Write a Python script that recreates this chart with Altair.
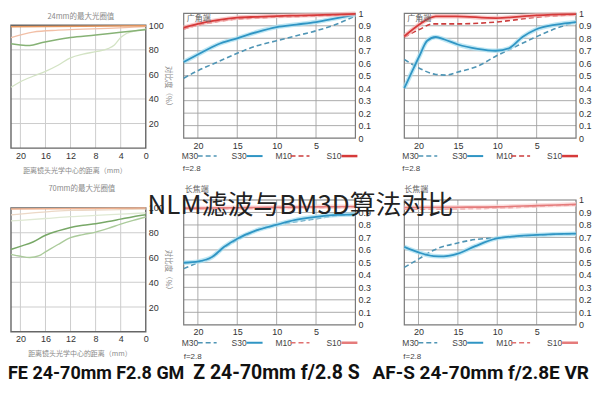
import altair as alt
import pandas as pd

LABEL_FONT = "Liberation Sans"
CJK_FONT = "Noto Sans CJK SC"
BIG_FONT = "Roboto"

# ---------------- axes / grids ----------------
SONY_X_TICKS = [20, 16, 12, 8, 4, 0]
SONY_Y_TICKS = [20, 40, 60, 80, 100]
SONY_X_GRID = [4, 8, 12, 16, 20]
SONY_Y_GRID = [20, 40, 60, 80]

MTF_X_TICKS = [20, 15, 10, 5]
MTF_Y_TICKS = [0, 0.1, 0.2, 0.3, 0.4, 0.5, 0.6, 0.7, 0.8, 0.9, 1]
MTF_X_GRID = [5, 10, 15, 20]
MTF_Y_GRID = [0.1, 0.2, 0.3, 0.4, 0.5, 0.6, 0.7, 0.8, 0.9]

# ---------------- Sony FE 24-70mm F2.8 GM, 24mm (contrast %) ----------------
S24_TOP_X = [21.5, 10, 0]
S24_TOP = [98.8, 99.3, 99.6]
S24_SALMON_X = [21.5, 18, 14, 10, 6, 2, 0]
S24_SALMON = [90, 94.5, 96, 96.8, 97.5, 98.5, 99]
S24_GREEN_X = [21.5, 20, 18.5, 16.5, 14, 12, 8, 4, 0]
S24_GREEN = [85, 84, 83.5, 86, 88.5, 90, 92, 94.3, 96.5]
S24_PALE_X = [21.5, 20, 18, 16, 14, 12, 10, 8, 6, 5, 4, 3, 2, 0]
S24_PALE = [49.5, 54, 58.5, 62.5, 67.5, 73.5, 76.5, 78.5, 81, 84, 90, 93.5, 95, 97]

# ---------------- Sony FE 24-70mm F2.8 GM, 70mm (contrast %) ----------------
S70_TOP_X = [21.5, 10, 0]
S70_TOP = [99.2, 99.6, 100]
S70_PALE1_X = [21.5, 18, 15, 12, 6, 0]
S70_PALE1 = [94.5, 96, 97.3, 98, 98.5, 99]
S70_PALE2_X = [21.5, 16, 12, 8, 4, 0]
S70_PALE2 = [89.5, 91.5, 93, 94, 95, 96]
S70_GREEN_X = [21.5, 20, 18, 16, 14, 12, 10, 8, 6, 4, 2, 0]
S70_GREEN = [66.5, 69, 72.5, 78, 81.5, 84.3, 86, 87.3, 89, 91, 93, 94.5]
S70_LIGHT_X = [21.5, 20, 18.5, 17, 16, 14, 12, 10, 8, 6, 4, 2, 0]
S70_LIGHT = [62.5, 61, 60, 61.5, 64.5, 70.5, 76, 78.5, 80.5, 83.5, 87, 90, 92.7]

# ---------------- Z 24-70mm f/2.8 S, wide ----------------
ZW_X = [21.8, 20, 17.5, 15, 12.5, 10, 7.5, 5, 2.5, 0]
ZW_S10 = [0.885, 0.915, 0.945, 0.965, 0.972, 0.978, 0.982, 0.986, 0.99, 0.996]
ZW_M10 = [0.875, 0.905, 0.935, 0.955, 0.963, 0.97, 0.975, 0.98, 0.987, 0.995]
ZW_S30 = [0.61, 0.67, 0.75, 0.80, 0.85, 0.89, 0.91, 0.93, 0.96, 0.99]
ZW_M30 = [0.48, 0.54, 0.61, 0.68, 0.74, 0.78, 0.82, 0.86, 0.91, 0.98]

# ---------------- AF-S 24-70mm f/2.8E VR, wide ----------------
NW_S10_X = [21.8, 19.9, 18.6, 17.8, 15.3, 10.2, 5.1, 0]
NW_S10 = [0.816, 0.91, 0.962, 0.976, 0.976, 0.962, 0.984, 0.994]
NW_M10_X = [21.8, 19.9, 18.2, 15.3, 10.2, 5.1, 0]
NW_M10 = [0.81, 0.87, 0.915, 0.915, 0.93, 0.968, 0.99]
NW_S30_X = [21.8, 20.8, 19.9, 18.9, 17.8, 16.7, 15, 12.5, 10.2, 8.5, 6.8, 5.1, 2.5, 0]
NW_S30 = [0.40, 0.536, 0.656, 0.78, 0.81, 0.79, 0.75, 0.715, 0.70, 0.72, 0.81, 0.87, 0.91, 0.93]
NW_M30_X = [21.8, 19.9, 17.8, 16.5, 15, 12.5, 10.2, 7.6, 5.1, 2.5, 0]
NW_M30 = [0.63, 0.56, 0.51, 0.505, 0.53, 0.576, 0.656, 0.736, 0.81, 0.88, 0.93]

# ---------------- Z 24-70mm f/2.8 S, tele ----------------
ZT_X = [21.8, 19.9, 18.2, 16.7, 15, 12.5, 10.1, 7.6, 5, 2.4, 0]
ZT_S10 = [0.935, 0.935, 0.936, 0.937, 0.938, 0.94, 0.941, 0.943, 0.945, 0.946, 0.948]
ZT_M10 = [0.925, 0.926, 0.927, 0.928, 0.93, 0.932, 0.934, 0.936, 0.938, 0.94, 0.942]
ZT_S30 = [0.497, 0.508, 0.543, 0.623, 0.69, 0.758, 0.80, 0.84, 0.865, 0.88, 0.885]
ZT_M30 = [0.45, 0.50, 0.54, 0.615, 0.68, 0.755, 0.80, 0.825, 0.85, 0.875, 0.885]

# ---------------- AF-S 24-70mm f/2.8E VR, tele ----------------
NT_X10 = [21.8, 15, 10, 5, 0]
NT_S10 = [0.94, 0.942, 0.945, 0.955, 0.965]
NT_M10 = [0.925, 0.93, 0.935, 0.948, 0.96]
NT_S30_X = [21.8, 19.9, 18.1, 16.8, 15, 12.8, 10.2, 7.6, 5, 0]
NT_S30 = [0.624, 0.578, 0.551, 0.548, 0.57, 0.63, 0.69, 0.71, 0.72, 0.73]
NT_M30_X = [21.8, 19.9, 18.1, 15, 12.8, 10.2, 5, 0]
NT_M30 = [0.46, 0.53, 0.597, 0.656, 0.683, 0.696, 0.718, 0.73]

RED, RED_D, RED_H = "#d63a3a", "#cc3d3d", "#f6b8b8"
RED2, RED2_D, RED2_H = "#e57b7b", "#e07070", "#f9d3d3"
BLUE, BLUE_D, BLUE_H = "#2f95c4", "#4f95b5", "#aadff0"
DASH = [5, 3]

ONE = pd.DataFrame({"k": [0]})


def txt(s, x, y, size=8, color="#777777", align="left", baseline="middle",
        font=CJK_FONT, weight="normal", angle=0):
    kw = dict(text=s, fontSize=size, color=color, align=align, baseline=baseline,
              font=font, fontWeight=weight)
    if angle:
        kw["angle"] = angle
    return alt.Chart(ONE).mark_text(**kw).encode(x=alt.value(x), y=alt.value(y))


def seg(x1, x2, y, color, dash=None, width=1.5):
    kw = dict(color=color, strokeWidth=width)
    if dash:
        kw["strokeDash"] = dash
    return alt.Chart(ONE).mark_rule(**kw).encode(
        x=alt.value(x1), x2=alt.value(x2), y=alt.value(y))


def legend(dx, y, red, red_d):
    t = dict(size=8.5, color="#444444", font=LABEL_FONT)
    return [
        txt("M30", dx - 2, y, **t), seg(dx + 14, dx + 33, y, BLUE_D, DASH),
        txt("S30", dx + 48, y, **t), seg(dx + 63, dx + 79, y, BLUE, None, 2),
        txt("M10", dx + 92, y, **t), seg(dx + 107, dx + 126, y, red_d, DASH),
        txt("S10", dx + 143, y, **t), seg(dx + 158, dx + 174, y, red, None, 2.5),
    ]


def panel(width, height, x_view, y_view, x_frame, y_frame, x_ticks, y_ticks,
          x_grid, y_grid, y_label_expr, grid_color, grid_width, frame_color,
          frame_width, lines, extras):
    xs = alt.Scale(domain=[0, x_view], reverse=True, nice=False, zero=False)
    ys = alt.Scale(domain=[0, y_view], nice=False, zero=False)
    xax = alt.Axis(values=x_ticks, grid=False, domain=False, ticks=False, tickSize=0,
                   labelPadding=3, labelFlush=False, labelFontSize=9,
                   labelColor="#333333", labelFont=LABEL_FONT, title=None)
    ykw = dict(orient="right", values=y_ticks, grid=False, domain=False, ticks=False,
               tickSize=0, labelPadding=2.5, labelFlush=False, labelFontSize=9,
               labelColor="#333333", labelFont=LABEL_FONT, title=None)
    if y_label_expr:
        ykw["labelExpr"] = y_label_expr
    yax = alt.Axis(**ykw)

    def X(f):
        return alt.X(f, type="quantitative", scale=xs, axis=xax)

    def Y(f):
        return alt.Y(f, type="quantitative", scale=ys, axis=yax)

    layers = []
    hg = pd.DataFrame({"g": y_grid, "a": [x_frame] * len(y_grid), "b": [0] * len(y_grid)})
    layers.append(alt.Chart(hg).mark_rule(color=grid_color, strokeWidth=grid_width)
                  .encode(y=Y("g"), x=X("a"), x2="b"))
    vg = pd.DataFrame({"g": x_grid, "a": [0] * len(x_grid), "b": [y_frame] * len(x_grid)})
    layers.append(alt.Chart(vg).mark_rule(color=grid_color, strokeWidth=grid_width)
                  .encode(x=X("g"), y=Y("a"), y2="b"))
    fr = pd.DataFrame({"a": [x_frame], "b": [0], "c": [0], "d": [y_frame]})
    layers.append(alt.Chart(fr).mark_rect(filled=False, color=frame_color,
                                          strokeWidth=frame_width)
                  .encode(x=X("a"), x2="b", y=Y("c"), y2="d"))
    for (lx, lv, color, lw, dash, halo) in lines:
        df = pd.DataFrame({"x": lx, "v": lv})
        if halo:
            layers.append(alt.Chart(df).mark_line(color=halo, strokeWidth=4.5, opacity=0.75,
                                                  interpolate="monotone")
                          .encode(x=X("x"), y=Y("v")))
        kw = dict(color=color, strokeWidth=lw, interpolate="monotone")
        if dash:
            kw["strokeDash"] = dash
        layers.append(alt.Chart(df).mark_line(**kw).encode(x=X("x"), y=Y("v")))
    layers.extend(extras)
    return alt.layer(*layers).properties(width=width, height=height)


MTF_EXPR = "datum.value == 1 ? '1' : datum.value == 0 ? '0' : format(datum.value, '.1f')"
BIG = dict(color="#111111", font=BIG_FONT, weight="bold", baseline="alphabetic")
SMALL = dict(size=7.5, color="#8a8a8a")

# ---- panel 1: Sony 24mm
p1 = panel(135, 135, 21.5, 100 * 135 / 123, 21.5, 100, SONY_X_TICKS, SONY_Y_TICKS,
           SONY_X_GRID, SONY_Y_GRID, None, "#cdcdcd", 1, "#666666", 1.4,
           [(S24_PALE_X, S24_PALE, "#d3e3c4", 1.3, None, None),
            (S24_GREEN_X, S24_GREEN, "#86b275", 1.5, None, None),
            (S24_SALMON_X, S24_SALMON, "#f2bfa6", 1.3, None, None),
            (S24_TOP_X, S24_TOP, "#e6975e", 1.5, None, None)],
           [txt("24mm的最大光圈值", 70, 4, align="center", **SMALL),
            txt("对比度（%）", 157, 75, align="center", angle=90, **SMALL),
            txt("距离镜头光学中心的距离（mm）", 64, 158, align="center", size=7, color="#8a8a8a")])

# ---- panel 2: Z wide
p2 = panel(172, 125, 21.8, 1, 21.8, 1, MTF_X_TICKS, MTF_Y_TICKS, MTF_X_GRID, MTF_Y_GRID,
           MTF_EXPR, "#a3a3a3", 0.9, "#7a7a7a", 1.2,
           [(ZW_X, ZW_M30, BLUE_D, 1.6, DASH, None),
            (ZW_X, ZW_S30, BLUE, 1.8, None, BLUE_H),
            (ZW_X, ZW_M10, RED_D, 1.6, DASH, None),
            (ZW_X, ZW_S10, RED, 1.8, None, RED_H)],
           [txt("广角端", 3, 6, size=8, color="#666666")]
           + legend(0, 143, RED, RED_D)
           + [txt("f=2.8", -1, 156, size=8, color="#444444", font=LABEL_FONT)])

# ---- panel 3: Nikon wide
p3 = panel(183, 125, 21.8 * 183 / 172, 1, 21.8, 1, MTF_X_TICKS, MTF_Y_TICKS, MTF_X_GRID,
           MTF_Y_GRID, MTF_EXPR, "#a3a3a3", 0.9, "#7a7a7a", 1.2,
           [(NW_M30_X, NW_M30, BLUE_D, 1.6, DASH, None),
            (NW_S30_X, NW_S30, BLUE, 1.8, None, BLUE_H),
            (NW_M10_X, NW_M10, RED_D, 1.6, DASH, None),
            (NW_S10_X, NW_S10, RED, 1.8, None, RED_H)],
           [txt("广角端", 14, 6, size=8, color="#666666")]
           + legend(11, 143, RED, RED_D)
           + [txt("f=2.8", 9, 156, size=8, color="#444444", font=LABEL_FONT)])

# ---- panel 4: Sony 70mm
p4 = panel(135, 132, 21.5, 100 * 132 / 124, 21.5, 100, SONY_X_TICKS, SONY_Y_TICKS,
           SONY_X_GRID, SONY_Y_GRID, None, "#cdcdcd", 1, "#666666", 1.4,
           [(S70_PALE2_X, S70_PALE2, "#dfe9d3", 1.3, None, None),
            (S70_LIGHT_X, S70_LIGHT, "#abcb9b", 1.4, None, None),
            (S70_GREEN_X, S70_GREEN, "#78a867", 1.5, None, None),
            (S70_PALE1_X, S70_PALE1, "#ecd8c6", 1.3, None, None),
            (S70_TOP_X, S70_TOP, "#efb08e", 1.5, None, None)],
           [txt("70mm的最大光圈值", 71, -11, align="center", **SMALL),
            txt("对比度（%）", 157, 72, align="center", angle=90, **SMALL),
            txt("距离镜头光学中心的距离（mm）", 69, 154, align="center", size=7, color="#8a8a8a"),
            txt("FE 24-70mm F2.8 GM", -3, 179, align="left", size=18, **BIG)])

# ---- panel 5: Z tele
p5 = panel(172, 125, 21.8, 1, 21.8, 1, MTF_X_TICKS, MTF_Y_TICKS, MTF_X_GRID, MTF_Y_GRID,
           MTF_EXPR, "#a3a3a3", 0.9, "#7a7a7a", 1.2,
           [(ZT_X, ZT_M30, BLUE_D, 1.6, DASH, None),
            (ZT_X, ZT_S30, BLUE, 1.8, None, BLUE_H),
            (ZT_X, ZT_M10, RED2_D, 1.5, DASH, None),
            (ZT_X, ZT_S10, RED2, 1.6, None, RED2_H)],
           [txt("长焦端", 1, -10, size=8, color="#666666")]
           + legend(0, 143, RED2, RED2_D)
           + [txt("f=2.8", 0, 157, size=8, color="#444444", font=LABEL_FONT),
              txt("Z 24-70mm f/2.8 S", 93, 179, align="center", size=19.5, **BIG)])

# ---- panel 6: Nikon tele (+ overlay title)
p6 = panel(183, 125, 21.8 * 183 / 172, 1, 21.8, 1, MTF_X_TICKS, MTF_Y_TICKS, MTF_X_GRID,
           MTF_Y_GRID, MTF_EXPR, "#a3a3a3", 0.9, "#7a7a7a", 1.2,
           [(NT_M30_X, NT_M30, BLUE_D, 1.6, DASH, None),
            (NT_S30_X, NT_S30, BLUE, 1.8, None, BLUE_H),
            (NT_X10, NT_M10, RED2_D, 1.5, DASH, None),
            (NT_X10, NT_S10, RED2, 1.6, None, RED2_H)],
           [txt("长焦端", 11, -10, size=8, color="#666666")]
           + legend(11, 143, RED2, RED2_D)
           + [txt("f=2.8", 10, 157, size=8, color="#444444", font=LABEL_FONT),
              txt("AF-S 24-70mm f/2.8E VR", 196, 179, align="right", size=19, **BIG),
              txt("NLM滤波与BM3D算法对比", -93, 6, align="center", size=26,
                  color="#222222", font=CJK_FONT)])

chart = (
    alt.concat(p1, p2, p3, p4, p5, p6, columns=3,
               spacing={"row": 52, "column": 38}, bounds="flush", align="each")
    .properties(padding={"top": -4, "left": 0, "right": 0, "bottom": 0})
    .configure_view(strokeWidth=0)
)

chart.save("out.html", embed_options={"renderer": "svg", "actions": False})
